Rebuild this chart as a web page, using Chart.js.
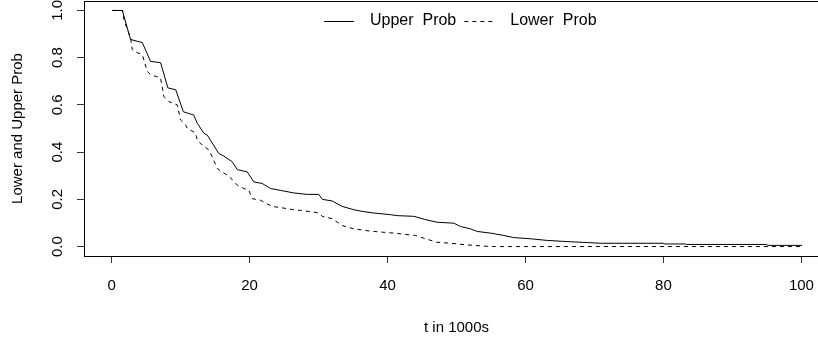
<!DOCTYPE html>
<html>
<head>
<meta charset="utf-8">
<script src="https://cdn.jsdelivr.net/npm/chart.js"></script>
<style>
  html, body { margin: 0; padding: 0; background: #fff; overflow: hidden; }
  #wrap { width: 840px; height: 337px; }
</style>
</head>
<body>
<div id="wrap"><canvas id="chart" width="840" height="337"></canvas></div>
<script>
// Data (t in 1000s, probability)
const upperT = [0.1, 1.55, 2.75, 4.45, 5.65, 7.1, 8.16, 9.3, 10.4, 11.9, 12.42, 13.38, 13.87, 15.55, 16.28,
  17.49, 18.22, 19.67, 20.62, 21.84, 23.04, 24.49, 26.42, 28.36, 30.04, 30.54, 31.99, 33.43, 35.12, 36.33,
  38.01, 40.43, 41.41, 43.81, 45.51, 47.2, 49.61, 50.58, 52.03, 53.0, 54.93, 56.86, 58.3, 60.72, 63.14,
  66.04, 68.94, 70.87, 80.04, 80.1, 83.2, 83.3, 95.0, 95.1, 100.1];
const upperP = [1.0, 1.0, 0.877, 0.864, 0.784, 0.779, 0.672, 0.664, 0.571, 0.557, 0.522, 0.480, 0.472, 0.394, 0.383,
  0.359, 0.326, 0.316, 0.274, 0.267, 0.246, 0.238, 0.227, 0.221, 0.221, 0.200, 0.193, 0.170, 0.156, 0.149,
  0.142, 0.135, 0.131, 0.128, 0.114, 0.103, 0.099, 0.085, 0.075, 0.064, 0.057, 0.047, 0.038, 0.033, 0.026,
  0.021, 0.017, 0.014, 0.014, 0.011, 0.011, 0.009, 0.009, 0.005, 0.005];

const lowerT = [0.1, 1.6, 1.78, 2.28, 2.75, 3.0, 3.23, 4.45, 5.17, 5.65, 7.1, 7.58, 8.3, 9.52, 10.0, 10.72,
  10.97, 12.17, 12.42, 13.14, 14.1, 14.59, 15.32, 15.8, 16.77, 17.49, 18.22, 19.17, 19.9, 20.39, 21.59,
  22.32, 23.29, 24.49, 26.42, 27.39, 29.32, 30.04, 30.54, 31.99, 33.43, 35.12, 36.81, 38.01, 40.91, 44.06,
  45.51, 47.2, 49.13, 51.55, 54.45, 55.65, 100.1];
const lowerP = [1.0, 1.0, 0.962, 0.919, 0.885, 0.834, 0.827, 0.813, 0.742, 0.728, 0.714, 0.635, 0.614, 0.600, 0.536, 0.515,
  0.501, 0.480, 0.451, 0.430, 0.409, 0.380, 0.331, 0.320, 0.302, 0.284, 0.260, 0.246, 0.238, 0.203, 0.196,
  0.184, 0.170, 0.165, 0.156, 0.153, 0.146, 0.142, 0.128, 0.118, 0.089, 0.075, 0.068, 0.064, 0.057, 0.047,
  0.033, 0.018, 0.014, 0.007, 0.001, 0.0, 0.0];

const xTicks = [0, 20, 40, 60, 80, 100];
const yTicks = [0, 0.2, 0.4, 0.6, 0.8, 1.0];

const seriesNames = ['Upper  Prob', 'Lower  Prob'];

const FONT = "'Liberation Sans', Arial, Helvetica, sans-serif";
Chart.defaults.font.family = FONT;
Chart.defaults.color = '#000';

function toPoints(ts, ps) {
  return ts.map((t, i) => ({ x: t, y: ps[i] }));
}

// R style box around the plot region
const boxPlugin = {
  id: 'box',
  afterDraw(chart) {
    const { ctx, chartArea: a } = chart;
    ctx.save();
    ctx.strokeStyle = '#000';
    ctx.lineWidth = 1;
    const top = Math.round(a.top) + 0.5;
    const bottom = Math.round(a.bottom) + 0.5;
    ctx.strokeRect(Math.round(a.left) + 0.5, top, a.right - a.left, bottom - top);
    ctx.restore();
  }
};

// horizontal legend in the top of the plot, like legend("top", horiz = TRUE, bty = "n")
const topLegend = {
  id: 'topLegend',
  afterDraw(chart) {
    const { ctx, scales } = chart;
    const sets = chart.data.datasets;
    const seg = 30, gapText = 16, gapItem = 8;
    ctx.save();
    ctx.font = '16px ' + FONT;
    const widths = sets.map(d => ctx.measureText(d.label).width);
    let total = 0;
    widths.forEach((w, i) => { total += seg + gapText + w + (i ? gapItem : 0); });
    const cx = scales.x.getPixelForValue(50) + 4;
    let x = Math.round(cx - total / 2);
    const y = 21;
    sets.forEach((d, i) => {
      ctx.strokeStyle = d.borderColor;
      ctx.lineWidth = d.borderWidth;
      ctx.setLineDash(d.borderDash || []);
      ctx.beginPath();
      ctx.moveTo(x, y + 0.5);
      ctx.lineTo(x + seg, y + 0.5);
      ctx.stroke();
      ctx.setLineDash([]);
      x += seg + gapText;
      ctx.fillStyle = '#000';
      ctx.textBaseline = 'middle';
      ctx.textAlign = 'left';
      ctx.fillText(d.label, x, y);
      x += widths[i] + gapItem;
    });
    ctx.restore();
  }
};

new Chart(document.getElementById('chart'), {
  type: 'line',
  data: {
    datasets: [
      {
        label: seriesNames[0],
        data: toPoints(upperT, upperP),
        borderColor: '#000',
        borderWidth: 1,
        pointRadius: 0,
        fill: false,
        tension: 0
      },
      {
        label: seriesNames[1],
        data: toPoints(lowerT, lowerP),
        borderColor: '#000',
        borderWidth: 1,
        borderDash: [4, 4],
        pointRadius: 0,
        fill: false,
        tension: 0
      }
    ]
  },
  options: {
    responsive: false,
    animation: false,
    layout: { padding: { top: 1, right: 11, bottom: 0, left: 0 } },
    plugins: {
      legend: { display: false },
      tooltip: { enabled: false }
    },
    scales: {
      x: {
        type: 'linear',
        min: -4,
        max: 104,
        afterBuildTicks: s => { s.ticks = xTicks.map(v => ({ value: v })); },
        afterFit: s => { s.height = 81; s.paddingLeft = 0; s.paddingRight = 0; },
        grid: { drawOnChartArea: false, drawTicks: true, tickLength: 7, tickColor: '#333' },
        border: { display: false },
        ticks: { padding: 14, maxRotation: 0, font: { size: 15 }, callback: v => String(v) },
        title: { display: true, text: 't in 1000s', font: { size: 15 }, padding: { top: 0, bottom: 0 } }
      },
      y: {
        min: -0.04,
        max: 1.04,
        afterBuildTicks: s => { s.ticks = yTicks.map(v => ({ value: v })); },
        afterFit: s => { s.width = 84; s.paddingTop = 0; s.paddingBottom = 0; },
        grid: { drawOnChartArea: false, drawTicks: true, tickLength: 7, tickColor: '#333' },
        border: { display: false },
        ticks: { padding: 9, minRotation: 90, maxRotation: 90, crossAlign: 'center', font: { size: 15 },
          callback: v => v.toFixed(1) },
        title: { display: true, text: 'Lower and Upper Prob', font: { size: 15 }, padding: { top: 9, bottom: 0 } }
      }
    }
  },
  plugins: [boxPlugin, topLegend]
});
</script>
</body>
</html>
